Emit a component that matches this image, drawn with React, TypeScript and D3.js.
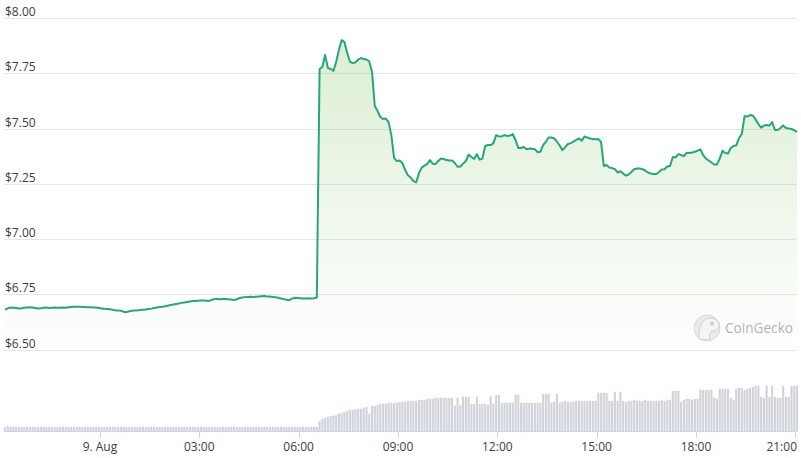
import { useEffect } from 'react';
import * as d3 from 'd3';

// 5-minute samples, 21:08 on 8 Aug to 21:03 on 9 Aug
const START = new Date(2023, 7, 8, 21, 8);
const STEP_MIN = 5;

const prices = [
  6.681, 6.686, 6.690, 6.689, 6.688, 6.686, 6.687, 6.689, 6.690, 6.691, 6.690, 6.688,
  6.686, 6.687, 6.689, 6.690, 6.688, 6.689, 6.690, 6.689, 6.689, 6.690, 6.689, 6.691,
  6.692, 6.693, 6.694, 6.694, 6.692, 6.692, 6.691, 6.691, 6.690, 6.690, 6.688, 6.686,
  6.684, 6.683, 6.682, 6.680, 6.677, 6.676, 6.675, 6.671, 6.669, 6.673, 6.675, 6.676,
  6.677, 6.679, 6.680, 6.681, 6.683, 6.685, 6.688, 6.690, 6.692, 6.693, 6.696, 6.698,
  6.701, 6.704, 6.706, 6.708, 6.711, 6.713, 6.715, 6.717, 6.719, 6.720, 6.721, 6.722,
  6.722, 6.721, 6.720, 6.725, 6.728, 6.728, 6.727, 6.728, 6.729, 6.727, 6.726, 6.724,
  6.727, 6.733, 6.735, 6.737, 6.738, 6.739, 6.738, 6.739, 6.740, 6.741, 6.742, 6.740,
  6.740, 6.738, 6.736, 6.734, 6.731, 6.728, 6.725, 6.723, 6.730, 6.734, 6.733, 6.732,
  6.731, 6.731, 6.732, 6.731, 6.732, 6.735, 7.769, 7.778, 7.833, 7.774, 7.769, 7.760,
  7.801, 7.855, 7.900, 7.891, 7.842, 7.802, 7.796, 7.799, 7.812, 7.819, 7.814, 7.812,
  7.803, 7.756, 7.602, 7.579, 7.552, 7.543, 7.545, 7.529, 7.470, 7.366, 7.353, 7.355,
  7.344, 7.312, 7.289, 7.278, 7.262, 7.256, 7.298, 7.323, 7.332, 7.339, 7.357, 7.341,
  7.339, 7.353, 7.364, 7.362, 7.357, 7.355, 7.355, 7.344, 7.327, 7.328, 7.341, 7.353,
  7.382, 7.371, 7.362, 7.384, 7.359, 7.364, 7.421, 7.425, 7.425, 7.434, 7.470, 7.464,
  7.465, 7.470, 7.466, 7.468, 7.475, 7.448, 7.412, 7.412, 7.416, 7.406, 7.409, 7.408,
  7.406, 7.393, 7.395, 7.425, 7.440, 7.459, 7.459, 7.455, 7.441, 7.423, 7.402, 7.416,
  7.430, 7.434, 7.441, 7.448, 7.455, 7.445, 7.464, 7.459, 7.455, 7.452, 7.451, 7.452,
  7.439, 7.330, 7.335, 7.323, 7.321, 7.316, 7.301, 7.307, 7.296, 7.287, 7.292, 7.303,
  7.316, 7.319, 7.319, 7.316, 7.310, 7.301, 7.296, 7.294, 7.294, 7.303, 7.315, 7.316,
  7.328, 7.330, 7.371, 7.369, 7.384, 7.380, 7.375, 7.390, 7.389, 7.391, 7.395, 7.400,
  7.405, 7.380, 7.364, 7.355, 7.346, 7.337, 7.337, 7.364, 7.399, 7.389, 7.387, 7.412,
  7.421, 7.424, 7.457, 7.475, 7.556, 7.554, 7.561, 7.559, 7.541, 7.520, 7.504, 7.513,
  7.516, 7.513, 7.529, 7.493, 7.493, 7.502, 7.514, 7.502, 7.500, 7.498, 7.492, 7.485,
];

// trading volume, $M
const volumes = [
  4.7, 5.7, 4.7, 4.7, 4.7, 4.7, 4.7, 4.7, 4.7, 4.7, 4.7, 4.7,
  4.7, 4.7, 4.7, 4.7, 4.7, 4.7, 4.7, 4.7, 4.7, 4.7, 4.7, 4.7,
  4.7, 4.7, 4.7, 4.7, 4.7, 4.7, 4.7, 4.7, 4.7, 4.7, 4.7, 4.7,
  4.7, 4.7, 4.7, 4.7, 4.7, 4.7, 4.7, 4.7, 4.7, 4.7, 4.7, 4.7,
  4.7, 4.7, 4.7, 4.7, 4.7, 4.7, 4.7, 4.7, 4.7, 4.7, 4.7, 4.7,
  4.7, 4.7, 4.7, 4.7, 4.7, 4.7, 4.7, 4.7, 4.7, 4.7, 4.7, 4.7,
  4.7, 4.7, 4.7, 4.7, 4.7, 4.7, 4.7, 4.7, 4.7, 4.7, 4.7, 4.7,
  4.7, 4.7, 4.7, 4.7, 4.7, 4.7, 4.7, 4.7, 4.7, 4.7, 4.7, 4.7,
  4.7, 4.7, 4.7, 4.7, 4.7, 4.7, 4.7, 4.7, 4.7, 4.7, 4.7, 4.7,
  4.7, 4.7, 4.7, 4.7, 4.7, 4.7, 10.7, 12.7, 13.7, 14.7, 15.7, 15.7,
  16.7, 18.3, 18.3, 19.7, 20.7, 21.7, 21.7, 22.7, 22.7, 22.7, 23.7, 24.7,
  17.7, 25.7, 25.7, 26.7, 27.7, 27.7, 27.7, 28.7, 28.7, 28.7, 28.7, 29.7,
  29.7, 29.7, 30.7, 30.7, 30.7, 30.7, 31.7, 31.7, 31.7, 32.7, 32.7, 32.7,
  33.7, 33.7, 33.7, 33.7, 33.7, 33.7, 33.7, 25.7, 33.7, 26.7, 34.7, 34.7,
  34.7, 27.7, 27.7, 34.7, 27.7, 27.7, 27.7, 26.7, 35.7, 27.7, 36.7, 36.7,
  28.7, 28.7, 28.7, 28.7, 28.7, 36.7, 36.7, 28.7, 28.7, 28.7, 28.7, 28.7,
  28.7, 28.7, 28.7, 37.7, 37.7, 37.7, 28.7, 29.7, 37.7, 28.7, 29.7, 30.7,
  29.7, 29.7, 29.7, 30.7, 30.7, 30.7, 30.7, 30.7, 30.7, 30.7, 30.7, 38.7,
  38.7, 38.7, 38.7, 30.7, 30.7, 39.7, 30.7, 39.7, 30.7, 29.7, 30.7, 30.7,
  31.7, 30.7, 30.7, 30.7, 31.7, 30.7, 30.7, 30.7, 30.7, 30.7, 31.7, 30.7,
  31.7, 31.7, 40.7, 40.7, 40.7, 29.7, 31.7, 32.7, 32.7, 31.7, 32.7, 32.7,
  41.7, 41.7, 41.7, 41.7, 41.7, 33.7, 32.7, 42.7, 42.7, 42.7, 42.7, 33.7,
  31.7, 42.7, 43.7, 43.7, 41.7, 42.7, 43.7, 44.7, 45.7, 45.7, 34.7, 33.7,
  45.7, 34.7, 45.7, 34.7, 33.7, 33.7, 45.7, 34.7, 34.7, 45.7, 45.7, 45.7,
];

const priceTicks = [6.5, 6.75, 7.0, 7.25, 7.5, 7.75, 8.0];
const priceTickLabels = ['$6.50', '$6.75', '$7.00', '$7.25', '$7.50', '$7.75', '$8.00'];
const timeTickHours = [0, 3, 6, 9, 12, 15, 18, 21];
const timeTickLabels = ['9. Aug', '03:00', '06:00', '09:00', '12:00', '15:00', '18:00', '21:00'];

const W = 801;
const H = 458;
const LEFT = 4;
const RIGHT = 797;
const FONT = '"Open Sans", "Noto Sans", Arial, sans-serif';

export default function App() {
  useEffect(() => {
    document.body.style.margin = '0';
  }, []);

  const times = prices.map((_, i) => new Date(START.getTime() + i * STEP_MIN * 60000));
  const x = d3.scaleTime()
    .domain([times[0], times[times.length - 1]])
    .range([5, 797]);
  const y = d3.scaleLinear().domain([6.5, 8.0]).range([349.5, 18]);
  const yVol = d3.scaleLinear().domain([0, 45.7]).range([431.5, 385.8]);

  const area = d3.area<number>()
    .x((_, i) => x(times[i]))
    .y0(y(6.5))
    .y1(d => y(d));
  const line = d3.line<number>()
    .x((_, i) => x(times[i]))
    .y(d => y(d));

  const barW = 2.1;

  return (
    <svg width={W} height={H} style={{ position: 'absolute', left: 0, top: 0, background: '#fff' }}
      fontFamily={FONT}>
      <defs>
        <linearGradient id="fillGrad" gradientUnits="userSpaceOnUse" x1="0" y1={y(8)} x2="0" y2={y(6.5)}>
          <stop offset="0" stopColor="rgb(130,195,100)" stopOpacity={0.3} />
          <stop offset="1" stopColor="rgb(130,195,100)" stopOpacity={0.0} />
        </linearGradient>
      </defs>

      {/* grid */}
      {priceTicks.map(v => (
        <line key={v} x1={LEFT} x2={RIGHT} y1={Math.round(y(v)) + 0.5} y2={Math.round(y(v)) + 0.5}
          stroke="#e6e6e6" strokeWidth={1} />
      ))}

      {/* watermark */}
      <g>
        <circle cx={707} cy={328} r={13} fill="#ececec" stroke="#dadada" strokeWidth={1} />
        <path d="M699 339 C698 326 703 318 710 318 C716 318 719 322 719 326 C719 329 716 331 713 331 C710 332 709 335 710 340 Z"
          fill="#f6f6f6" stroke="#d2d2d2" strokeWidth={1} />
        <circle cx={712} cy={323.5} r={2} fill="#cfcfcf" />
        <text x={725} y={333} fontSize={14} fontWeight={500} fill="#b3b3b3"
          textLength={68} lengthAdjust="spacingAndGlyphs">CoinGecko</text>
      </g>

      {/* price */}
      <path d={area(prices) ?? ''} fill="url(#fillGrad)" />
      <path d={line(prices) ?? ''} fill="none" stroke="#27a67a" strokeWidth={2} strokeLinejoin="round" />

      {/* volume */}
      {volumes.map((v, i) => (
        <rect key={i} x={x(times[i]) - barW / 2} y={yVol(v)} width={barW} height={yVol(0) - yVol(v)}
          fill="#d1d3da" />
      ))}

      {/* x axis */}
      <line x1={LEFT} x2={RIGHT} y1={431.5} y2={431.5} stroke="#ccd6eb" strokeWidth={1} />
      {timeTickHours.map((h, k) => {
        const t = new Date(2023, 7, 9, h);
        const px = x(t);
        const overflow = px + 14 > RIGHT;
        return (
          <g key={h}>
            <line x1={Math.round(px) + 0.5} x2={Math.round(px) + 0.5} y1={431.5} y2={438}
              stroke="#ccd6eb" strokeWidth={1} />
            <text x={overflow ? RIGHT : px} y={451} fontSize={12} fill="#3d3d3d"
              textAnchor={overflow ? 'end' : 'middle'}>{timeTickLabels[k]}</text>
          </g>
        );
      })}

      {/* y labels */}
      {priceTicks.map((v, k) => (
        <text key={v} x={5} y={y(v) - 2} fontSize={12} fill="#3d3d3d">{priceTickLabels[k]}</text>
      ))}
    </svg>
  );
}
